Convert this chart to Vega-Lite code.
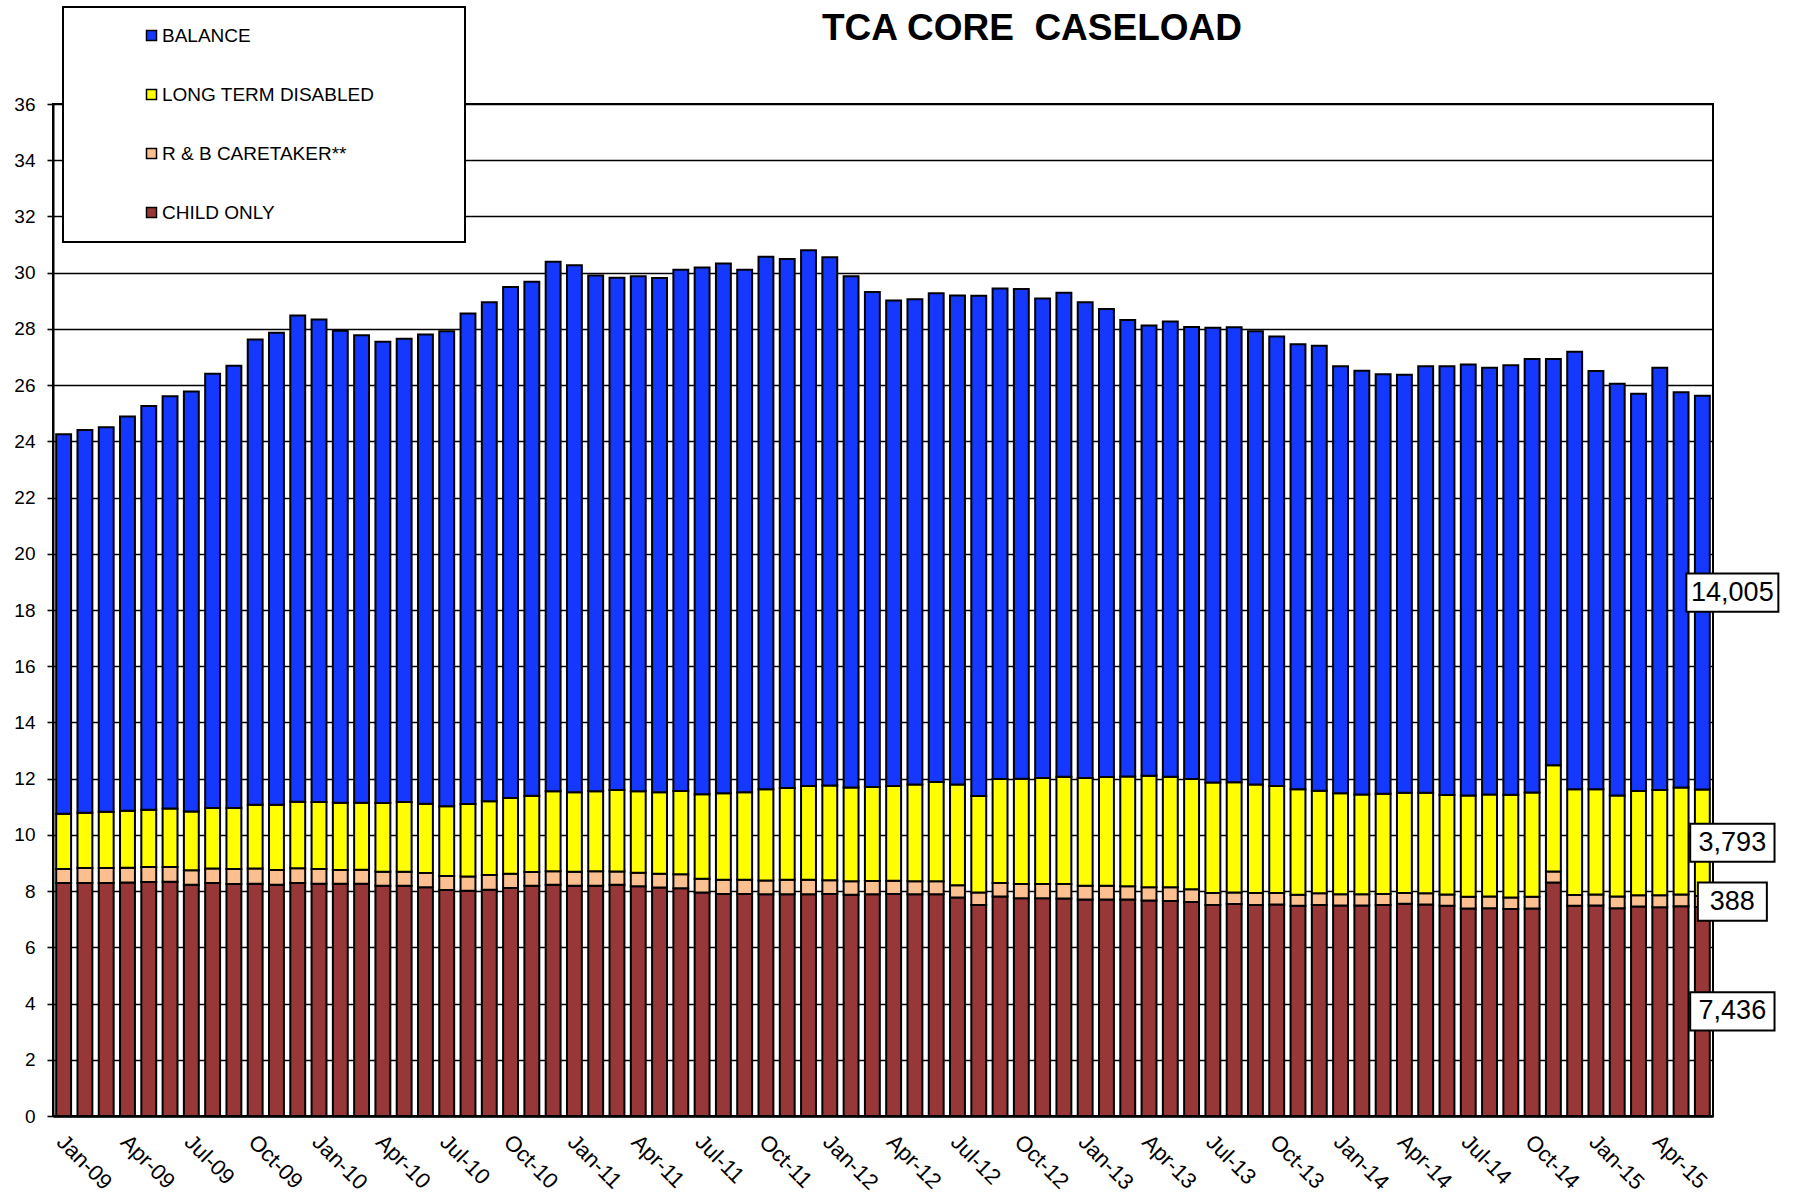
{
  "$schema": "https://vega.github.io/schema/vega-lite/v6.json",
  "width": 1660,
  "height": 1012,
  "autosize": {"type": "none"},
  "padding": {"left": 53, "top": 104, "right": 83, "bottom": 80},
  "background": "white",
  "config": {"view": {"stroke": "black", "strokeWidth": 2}},
  "title": {"text": "TCA CORE\u00a0 CASELOAD", "font": "Liberation Sans", "fontSize": 37, "fontWeight": "bold", "anchor": "middle", "frame": "group", "dx": 149, "offset": -42, "color": "black"},
  "data": {"values": [
    {"m":"Jan-09","c":8.29,"r":0.50,"l":1.96,"b":13.50},
    {"m":"Feb-09","c":8.29,"r":0.53,"l":1.97,"b":13.61},
    {"m":"Mar-09","c":8.29,"r":0.53,"l":2.00,"b":13.68},
    {"m":"Apr-09","c":8.31,"r":0.52,"l":2.03,"b":14.02},
    {"m":"May-09","c":8.32,"r":0.54,"l":2.03,"b":14.37},
    {"m":"Jun-09","c":8.33,"r":0.53,"l":2.08,"b":14.66},
    {"m":"Jul-09","c":8.23,"r":0.51,"l":2.09,"b":14.94},
    {"m":"Aug-09","c":8.29,"r":0.51,"l":2.16,"b":15.44},
    {"m":"Sep-09","c":8.25,"r":0.54,"l":2.17,"b":15.73},
    {"m":"Oct-09","c":8.26,"r":0.54,"l":2.27,"b":16.55},
    {"m":"Nov-09","c":8.23,"r":0.52,"l":2.32,"b":16.79},
    {"m":"Dec-09","c":8.29,"r":0.52,"l":2.37,"b":17.30},
    {"m":"Jan-10","c":8.26,"r":0.53,"l":2.38,"b":17.16},
    {"m":"Feb-10","c":8.26,"r":0.49,"l":2.39,"b":16.79},
    {"m":"Mar-10","c":8.26,"r":0.50,"l":2.38,"b":16.63},
    {"m":"Apr-10","c":8.19,"r":0.50,"l":2.44,"b":16.41},
    {"m":"May-10","c":8.19,"r":0.50,"l":2.48,"b":16.48},
    {"m":"Jun-10","c":8.14,"r":0.50,"l":2.47,"b":16.69},
    {"m":"Jul-10","c":8.04,"r":0.50,"l":2.48,"b":16.90},
    {"m":"Aug-10","c":8.01,"r":0.51,"l":2.58,"b":17.45},
    {"m":"Sep-10","c":8.05,"r":0.52,"l":2.63,"b":17.75},
    {"m":"Oct-10","c":8.11,"r":0.51,"l":2.69,"b":18.18},
    {"m":"Nov-10","c":8.19,"r":0.49,"l":2.71,"b":18.29},
    {"m":"Dec-10","c":8.23,"r":0.48,"l":2.84,"b":18.84},
    {"m":"Jan-11","c":8.19,"r":0.50,"l":2.83,"b":18.74},
    {"m":"Feb-11","c":8.19,"r":0.52,"l":2.84,"b":18.35},
    {"m":"Mar-11","c":8.23,"r":0.47,"l":2.90,"b":18.22},
    {"m":"Apr-11","c":8.17,"r":0.48,"l":2.90,"b":18.32},
    {"m":"May-11","c":8.13,"r":0.49,"l":2.90,"b":18.29},
    {"m":"Jun-11","c":8.10,"r":0.50,"l":2.96,"b":18.54},
    {"m":"Jul-11","c":7.95,"r":0.49,"l":3.01,"b":18.73},
    {"m":"Aug-11","c":7.90,"r":0.50,"l":3.08,"b":18.85},
    {"m":"Sep-11","c":7.90,"r":0.50,"l":3.12,"b":18.58},
    {"m":"Oct-11","c":7.89,"r":0.49,"l":3.24,"b":18.95},
    {"m":"Nov-11","c":7.89,"r":0.51,"l":3.27,"b":18.82},
    {"m":"Dec-11","c":7.89,"r":0.51,"l":3.34,"b":19.06},
    {"m":"Jan-12","c":7.90,"r":0.49,"l":3.37,"b":18.79},
    {"m":"Feb-12","c":7.87,"r":0.48,"l":3.34,"b":18.18},
    {"m":"Mar-12","c":7.89,"r":0.47,"l":3.34,"b":17.61},
    {"m":"Apr-12","c":7.90,"r":0.47,"l":3.37,"b":17.27},
    {"m":"May-12","c":7.89,"r":0.46,"l":3.44,"b":17.26},
    {"m":"Jun-12","c":7.89,"r":0.46,"l":3.53,"b":17.39},
    {"m":"Jul-12","c":7.77,"r":0.44,"l":3.58,"b":17.40},
    {"m":"Aug-12","c":7.51,"r":0.44,"l":3.43,"b":17.80},
    {"m":"Sep-12","c":7.81,"r":0.48,"l":3.70,"b":17.45},
    {"m":"Oct-12","c":7.75,"r":0.50,"l":3.75,"b":17.42},
    {"m":"Nov-12","c":7.75,"r":0.50,"l":3.77,"b":17.06},
    {"m":"Dec-12","c":7.74,"r":0.51,"l":3.82,"b":17.22},
    {"m":"Jan-13","c":7.70,"r":0.49,"l":3.83,"b":16.93},
    {"m":"Feb-13","c":7.70,"r":0.49,"l":3.87,"b":16.65},
    {"m":"Mar-13","c":7.70,"r":0.47,"l":3.91,"b":16.24},
    {"m":"Apr-13","c":7.67,"r":0.47,"l":3.96,"b":16.02},
    {"m":"May-13","c":7.65,"r":0.49,"l":3.93,"b":16.19},
    {"m":"Jun-13","c":7.61,"r":0.46,"l":3.92,"b":16.08},
    {"m":"Jul-13","c":7.51,"r":0.42,"l":3.93,"b":16.18},
    {"m":"Aug-13","c":7.54,"r":0.41,"l":3.92,"b":16.19},
    {"m":"Sep-13","c":7.51,"r":0.42,"l":3.86,"b":16.13},
    {"m":"Oct-13","c":7.52,"r":0.41,"l":3.81,"b":15.99},
    {"m":"Nov-13","c":7.48,"r":0.39,"l":3.75,"b":15.83},
    {"m":"Dec-13","c":7.51,"r":0.41,"l":3.65,"b":15.83},
    {"m":"Jan-14","c":7.49,"r":0.40,"l":3.59,"b":15.19},
    {"m":"Feb-14","c":7.49,"r":0.40,"l":3.55,"b":15.07},
    {"m":"Mar-14","c":7.51,"r":0.39,"l":3.56,"b":14.93},
    {"m":"Apr-14","c":7.55,"r":0.38,"l":3.57,"b":14.87},
    {"m":"May-14","c":7.52,"r":0.40,"l":3.58,"b":15.17},
    {"m":"Jun-14","c":7.48,"r":0.40,"l":3.54,"b":15.25},
    {"m":"Jul-14","c":7.38,"r":0.42,"l":3.60,"b":15.33},
    {"m":"Aug-14","c":7.39,"r":0.42,"l":3.63,"b":15.18},
    {"m":"Sep-14","c":7.36,"r":0.41,"l":3.66,"b":15.28},
    {"m":"Oct-14","c":7.38,"r":0.42,"l":3.71,"b":15.42},
    {"m":"Nov-14","c":8.31,"r":0.39,"l":3.78,"b":14.45},
    {"m":"Dec-14","c":7.48,"r":0.38,"l":3.76,"b":15.57},
    {"m":"Jan-15","c":7.49,"r":0.39,"l":3.74,"b":14.88},
    {"m":"Feb-15","c":7.39,"r":0.42,"l":3.59,"b":14.65},
    {"m":"Mar-15","c":7.45,"r":0.40,"l":3.71,"b":14.13},
    {"m":"Apr-15","c":7.43,"r":0.42,"l":3.75,"b":15.02},
    {"m":"May-15","c":7.46,"r":0.42,"l":3.81,"b":14.06},
    {"m":"Jun-15","c":7.436,"r":0.388,"l":3.793,"b":14.005}
  ]},
  "transform": [
    {"fold": ["c", "r", "l", "b"], "as": ["k", "v"]},
    {"calculate": "indexof(['c','r','l','b'], datum.k)", "as": "o"}
  ],
  "encoding": {
    "x": {
      "field": "m", "type": "nominal", "sort": null,
      "scale": {"paddingInner": 0.3, "paddingOuter": 0.15},
      "axis": {
        "title": null,
        "labelExpr": "indexof(['Jan','Apr','Jul','Oct'], slice(datum.label,0,3)) >= 0 ? datum.label : ''",
        "labelAngle": 45, "labelAlign": "left", "labelBaseline": "top",
        "labelFontSize": 22, "labelFont": "Liberation Sans", "labelColor": "black",
        "labelOffset": 4, "labelPadding": 15, "labelOverlap": false,
        "ticks": false, "domainColor": "black", "domainWidth": 2.5, "grid": false
      }
    }
  },
  "layer": [
    {
      "mark": {"type": "bar", "stroke": "black", "strokeWidth": 2},
      "encoding": {
        "y": {
          "field": "v", "type": "quantitative", "stack": "zero",
          "scale": {"domain": [0, 36], "nice": false, "zero": true},
          "axis": {
            "title": null,
            "values": [0,2,4,6,8,10,12,14,16,18,20,22,24,26,28,30,32,34,36],
            "grid": true, "gridColor": "black", "gridWidth": 1.6, "gridOpacity": 1,
            "domainColor": "black", "domainWidth": 2, "tickColor": "black", "tickSize": 6, "tickWidth": 1.6,
            "labelFontSize": 19, "labelFont": "Liberation Sans", "labelColor": "black", "labelPadding": 12
          }
        },
        "color": {
          "field": "k", "type": "nominal",
          "scale": {"domain": ["b", "l", "r", "c"], "range": ["#1538FF", "#FFFF00", "#FCC090", "#973737"]},
          "legend": {
            "orient": "none", "legendX": 10, "legendY": -97,
            "title": "\u00a0", "titleOrient": "right", "titlePadding": 72, "titleFontSize": 8,
            "fillColor": "white", "strokeColor": "black", "padding": 19,
            "symbolOffset": 60, "symbolType": "square", "symbolSize": 100,
            "symbolStrokeColor": "black", "symbolStrokeWidth": 1.5, "symbolOpacity": 1,
            "labelFontSize": 19, "labelFont": "Liberation Sans", "labelColor": "black",
            "labelOffset": 1, "rowPadding": 39, "labelLimit": 400,
            "labelExpr": "datum.label == 'b' ? 'BALANCE' : datum.label == 'l' ? 'LONG TERM DISABLED' : datum.label == 'r' ? 'R & B CARETAKER**' : 'CHILD ONLY'",
            "encode": {"legend": {"update": {"strokeWidth": {"value": 2}}}}
          }
        },
        "order": {"field": "o", "type": "quantitative"}
      }
    },
    {
      "transform": [
        {"filter": "datum.m == 'Jun-15'"},
        {"stack": "v", "groupby": ["m"], "sort": [{"field": "o", "order": "ascending"}], "as": ["y0", "y1"]},
        {"calculate": "(datum.y0 + datum.y1) / 2", "as": "mid"},
        {"calculate": "format(round(datum.v * 1000), ',')", "as": "t"},
        {"calculate": "length(datum.t)", "as": "n"},
        {"calculate": "datum.mid - 0.68", "as": "lo"},
        {"calculate": "datum.mid + 0.68", "as": "hi"}
      ],
      "mark": {"type": "bar", "fill": "white", "stroke": "black", "strokeWidth": 2, "xOffset": 30},
      "encoding": {
        "y": {
          "field": "lo", "type": "quantitative",
          "scale": {"domain": [0, 36], "nice": false, "zero": true},
          "axis": {
            "title": null,
            "values": [0,2,4,6,8,10,12,14,16,18,20,22,24,26,28,30,32,34,36],
            "grid": true, "gridColor": "black", "gridWidth": 1.6, "gridOpacity": 1,
            "domainColor": "black", "domainWidth": 2, "tickColor": "black", "tickSize": 6, "tickWidth": 1.6,
            "labelFontSize": 19, "labelFont": "Liberation Sans", "labelColor": "black", "labelPadding": 12
          }
        },
        "y2": {"field": "hi"},
        "size": {"field": "n", "type": "quantitative", "scale": {"domain": [3, 6], "range": [69, 92]}, "legend": null}
      }
    },
    {
      "transform": [
        {"filter": "datum.m == 'Jun-15'"},
        {"stack": "v", "groupby": ["m"], "sort": [{"field": "o", "order": "ascending"}], "as": ["y0", "y1"]},
        {"calculate": "(datum.y0 + datum.y1) / 2", "as": "mid"},
        {"calculate": "format(round(datum.v * 1000), ',')", "as": "t"}
      ],
      "mark": {"type": "text", "font": "Liberation Sans", "fontSize": 27, "color": "black", "align": "center", "baseline": "middle", "dx": 30},
      "encoding": {
        "y": {
          "field": "mid", "type": "quantitative",
          "scale": {"domain": [0, 36], "nice": false, "zero": true},
          "axis": {
            "title": null,
            "values": [0,2,4,6,8,10,12,14,16,18,20,22,24,26,28,30,32,34,36],
            "grid": true, "gridColor": "black", "gridWidth": 1.6, "gridOpacity": 1,
            "domainColor": "black", "domainWidth": 2, "tickColor": "black", "tickSize": 6, "tickWidth": 1.6,
            "labelFontSize": 19, "labelFont": "Liberation Sans", "labelColor": "black", "labelPadding": 12
          }
        },
        "text": {"field": "t", "type": "nominal"}
      }
    }
  ]
}
